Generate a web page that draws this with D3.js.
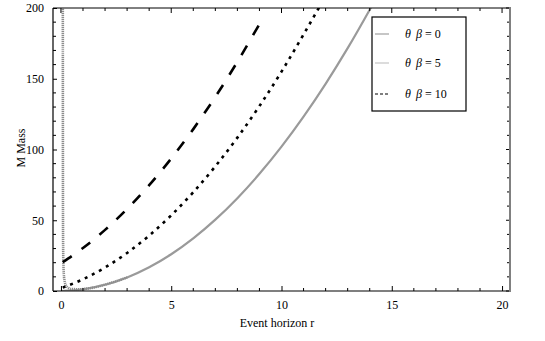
<!DOCTYPE html>
<html>
<head>
<meta charset="utf-8">
<script src="https://cdn.jsdelivr.net/npm/d3@7"></script>
<style>
  body { margin: 0; background: #fff; }
  svg text { font-family: "Liberation Serif", "Times New Roman", serif !important; }
</style>
</head>
<body>
<svg class="mysvg"></svg>
<script>
// values
const rBeta0 = [0, 1, 2, 3, 4, 5, 6, 7, 8, 9, 10, 11, 12, 13, 14, 14.4];
const mBeta0 = [0, 1.2, 4.4, 9.6, 16.8, 26, 37.2, 50.4, 65.6, 82.8, 102, 123.2, 146.4, 171.6, 198.8, 210];

const rBeta5 = [0.085, 0.088, 0.092, 0.1, 0.12, 0.16, 0.22, 0.32, 0.5, 0.8, 1.2, 2, 3];
const mBeta5 = [205, 120, 60, 30, 15, 7.5, 4.2, 2.4, 1.4, 1.2, 1.7, 4.5, 9.6];

const rBeta10 = [0.08, 1, 2, 3, 4, 5, 6, 7, 8, 9, 10, 11, 11.8];
const mBeta10 = [2.4, 8.3, 16.6, 26.9, 39.2, 53.5, 69.8, 88.1, 108.4, 130.7, 155, 181.3, 203];

const rLong = [0.08, 1, 2, 3, 4, 5, 6, 7, 8, 9.05];
const mLong = [20.4, 30.4, 43.2, 58, 74.8, 93.6, 114.4, 137.2, 162, 190];

const xMajor = [0, 5, 10, 15, 20];
const yMajor = [0, 50, 100, 150, 200];
const legendLabels = ["0", "5", "10"];

const width = 545, height = 341;
const svg = d3.select(".mysvg").attr("width", width).attr("height", height);

const x = d3.scaleLinear().domain([-0.36, 20.36]).range([53, 510]);
const y = d3.scaleLinear().domain([0, 200]).range([291, 8]);

svg.append("defs").append("clipPath").attr("id", "plotclip")
  .append("rect").attr("x", 53).attr("y", 8).attr("width", 457).attr("height", 283);

const zip = (rs, ms) => rs.map((r, i) => ({ r: r, m: ms[i] }));
const line = d3.line().x(d => x(d.r)).y(d => y(d.m)).curve(d3.curveMonotoneX);

const curves = svg.append("g").attr("clip-path", "url(#plotclip)");

curves.append("path").datum(zip(rBeta0, mBeta0))
  .attr("d", line).attr("fill", "none")
  .attr("stroke", "#9a9a9a").attr("stroke-width", 2.2);

curves.append("path").datum(zip(rBeta5, mBeta5))
  .attr("d", line).attr("fill", "none")
  .attr("stroke", "#8c8c8c").attr("stroke-width", 2.6)
  .attr("stroke-dasharray", "1.2,0.8");

curves.append("path").datum(zip(rBeta10, mBeta10))
  .attr("d", line).attr("fill", "none")
  .attr("stroke", "#000").attr("stroke-width", 2.6)
  .attr("stroke-dasharray", "3,5");

curves.append("path").datum(zip(rLong, mLong))
  .attr("d", line).attr("fill", "none")
  .attr("stroke", "#000").attr("stroke-width", 2.6)
  .attr("stroke-dasharray", "11,12");

// ticks (inward) on all four sides
const xMinor = d3.range(0, 21).filter(v => !xMajor.includes(v));
const yMinor = d3.range(10, 200, 10).filter(v => !yMajor.includes(v));

const axisB = d3.axisBottom(x).tickValues(xMajor).tickSize(-5).tickPadding(9);
const gB = svg.append("g").attr("transform", "translate(0,291)").call(axisB);
gB.attr("font-family", null).attr("font-size", 12);
gB.select(".domain").remove();

const axisL = d3.axisLeft(y).tickValues(yMajor).tickSize(-4).tickPadding(9);
const gL = svg.append("g").attr("transform", "translate(53,0)").call(axisL);
gL.attr("font-family", null).attr("font-size", 12);
gL.select(".domain").remove();

svg.append("g").selectAll("line").data(xMinor).join("line")
  .attr("x1", d => x(d)).attr("x2", d => x(d)).attr("y1", 291).attr("y2", 288)
  .attr("stroke", "#000");
svg.append("g").selectAll("line").data(xMajor.concat(xMinor)).join("line")
  .attr("x1", d => x(d)).attr("x2", d => x(d)).attr("y1", 8)
  .attr("y2", d => xMajor.includes(d) ? 13 : 11).attr("stroke", "#000");
svg.append("g").selectAll("line").data(yMinor).join("line")
  .attr("x1", 53).attr("x2", 56).attr("y1", d => y(d)).attr("y2", d => y(d))
  .attr("stroke", "#000");
svg.append("g").selectAll("line").data(yMajor.concat(yMinor)).join("line")
  .attr("x1", 510).attr("x2", d => yMajor.includes(d) ? 506 : 507)
  .attr("y1", d => y(d)).attr("y2", d => y(d)).attr("stroke", "#000");

// frame
svg.append("line").attr("x1", 53).attr("x2", 510).attr("y1", 291).attr("y2", 291).attr("stroke", "#000").attr("stroke-width", 1.2);
svg.append("line").attr("x1", 53).attr("x2", 510).attr("y1", 8).attr("y2", 8).attr("stroke", "#000");
svg.append("line").attr("x1", 53).attr("x2", 53).attr("y1", 8).attr("y2", 291).attr("stroke", "#000").attr("stroke-width", 1.2);
svg.append("line").attr("x1", 510).attr("x2", 510).attr("y1", 7).attr("y2", 292).attr("stroke", "#808080").attr("stroke-width", 2);

// axis titles
svg.append("text").attr("x", 277).attr("y", 327).attr("text-anchor", "middle")
  .attr("font-size", 12).text("Event horizon r");
svg.append("text").attr("transform", "translate(25,148) rotate(-90)")
  .attr("text-anchor", "middle").attr("font-size", 12).text("M Mass");

// legend
const legend = svg.append("g");
legend.append("rect").attr("x", 372).attr("y", 17).attr("width", 94).attr("height", 94)
  .attr("fill", "#fff").attr("stroke", "#000").attr("stroke-width", 1.2);

const legendStyle = [
  { color: "#a0a0a0", dash: null, w: 1.2 },
  { color: "#c4c4c4", dash: null, w: 1.2 },
  { color: "#000", dash: "3,2", w: 1.2 },
];
const legendY = [34, 63, 94];

legend.selectAll("line.sample").data(legendLabels).join("line")
  .attr("class", "sample")
  .attr("x1", 375).attr("x2", 389)
  .attr("y1", (d, i) => legendY[i]).attr("y2", (d, i) => legendY[i])
  .attr("stroke", (d, i) => legendStyle[i].color)
  .attr("stroke-width", (d, i) => legendStyle[i].w)
  .attr("stroke-dasharray", (d, i) => legendStyle[i].dash);

const lt = legend.selectAll("text").data(legendLabels).join("text")
  .attr("x", 405).attr("y", (d, i) => legendY[i] + 4)
  .attr("font-size", 12);
lt.append("tspan").attr("font-style", "italic").text("θ");
lt.append("tspan").attr("dx", 5).attr("font-style", "italic").text("β");
lt.append("tspan").text(d => " = " + d);
</script>
</body>
</html>
